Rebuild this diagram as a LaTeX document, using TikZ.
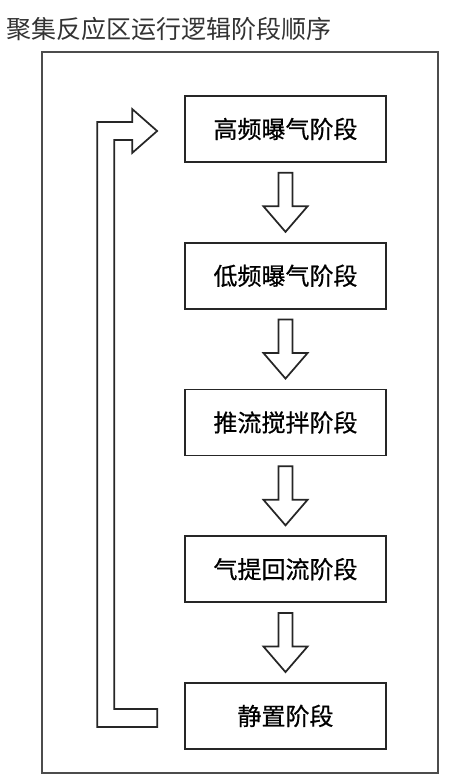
\documentclass[tikz,border=0pt]{standalone}
\usepackage{fontspec}
\newfontfamily\cjk{Noto Sans CJK SC}
\newfontfamily\cjkb[FakeBold=0.6]{Noto Sans CJK SC}
\usetikzlibrary{positioning,calc}

\tikzset{
  stage/.style={draw=black!85, line width=1.3pt, minimum width=150.75pt, minimum height=49.5pt, inner sep=0pt, font=\cjkb\fontsize{18pt}{18pt}\selectfont},
  hollow/.style={draw=black!85, line width=1.3pt, line join=miter, fill=white},
  downarr/.pic={\draw[hollow] (-7,29.5) -- (7,29.5) -- (7,-4) -- (22,-4) -- (0,-29.5) -- (-22,-4) -- (-7,-4) -- cycle;}
}

\begin{document}
\begin{tikzpicture}[x=0.75pt,y=0.75pt,yscale=-1,xscale=1, node distance=59.25pt]
				\useasboundingbox (0,0) rectangle (450,784);
				
				% Text Node
				\node[font=\cjk\fontsize{18.75pt}{18.75pt}\selectfont, text=black!80] (title) at (169,29) {聚集反应区运行逻辑阶段顺序};
				% Frame
				\draw [draw=black!70, line width=1.4pt] (42,52) rectangle (438,773);
				
				% Stages
				\node[stage] (gp) at (285.5,129) {高频曝气阶段};
				\node[stage, below=of gp] (dp) {低频曝气阶段};
				\node[stage, below=of dp] (tl) {推流搅拌阶段};
				\node[stage, below=of tl] (qt) {气提回流阶段};
				\node[stage, below=of qt] (jz) {静置阶段};
				
				% Connection
				\pic at ($(gp.south)!0.5!(dp.north)$) {downarr};
				\pic at ($(dp.south)!0.5!(tl.north)$) {downarr};
				\pic at ($(tl.south)!0.5!(qt.north)$) {downarr};
				\pic at ($(qt.south)!0.5!(jz.north)$) {downarr};
				
				% Connection (back to first stage)
				\draw [hollow] ($(jz.west)+(-27,11)$) -- ($(jz.west)+(-87,11)$) |- ($(gp.west)+(-52,-7)$) -- ++(0,-13) -- ++(25,22) -- ++(-25,22) -- ++(0,-13) -| ($(jz.west)+(-70,-7)$) -- ($(jz.west)+(-27,-7)$) -- cycle;
				
\end{tikzpicture}
\end{document}
